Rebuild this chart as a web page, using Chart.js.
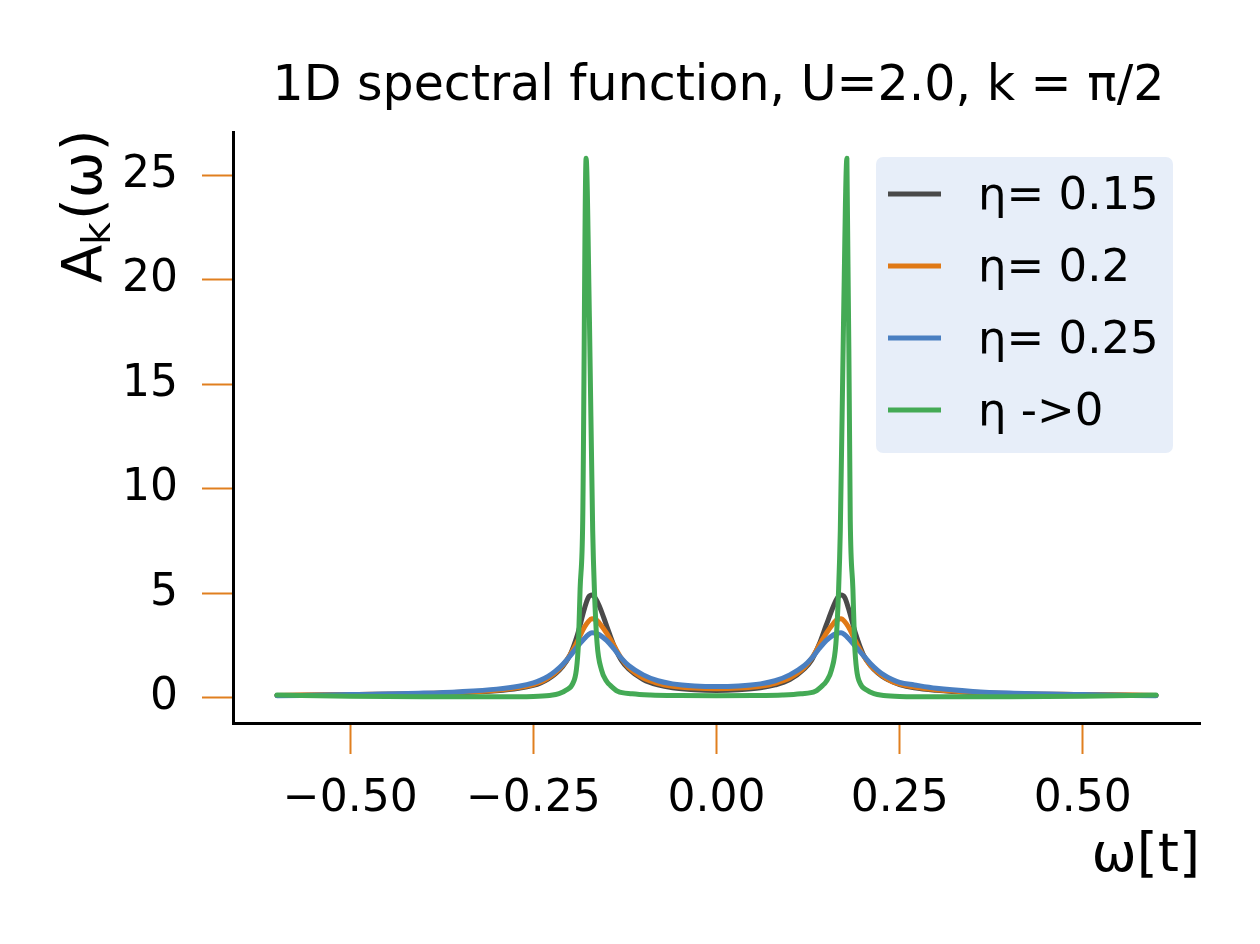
<!DOCTYPE html>
<html>
<head>
<meta charset="utf-8">
<script src="https://cdn.jsdelivr.net/npm/chart.js@4.4.1/dist/chart.umd.min.js"></script>
<style>
  html, body { margin: 0; padding: 0; background: #ffffff; }
  canvas { display: block; }
</style>
</head>
<body>
<canvas id="spectral" width="1260" height="944"></canvas>
<script>
// ===== Data =====

const TITLE = '1D spectral function, U=2.0, k = \u03c0/2';

const seriesLabels = ['\u03b7= 0.15', '\u03b7= 0.2', '\u03b7= 0.25', '\u03b7 ->0'];

// shared frequency grid for the three broadened curves
const omega = [
    -0.60, -0.50, -0.40, -0.35, -0.30, -0.27, -0.25, -0.24, -0.23, -0.22,
    -0.21, -0.20, -0.19, -0.18, -0.175, -0.17, -0.165, -0.16, -0.15, -0.14,
    -0.13, -0.12, -0.10, -0.08, -0.06, -0.03,
    0.00,
    0.03, 0.06, 0.08, 0.10, 0.12, 0.13, 0.14, 0.15, 0.16, 0.165,
    0.17, 0.175, 0.18, 0.19, 0.20, 0.21, 0.22, 0.23, 0.24, 0.25,
    0.27, 0.30, 0.35, 0.40, 0.50, 0.60
];

const eta015 = [
    0.12, 0.15, 0.19, 0.24, 0.34, 0.46, 0.60, 0.72, 0.90, 1.15,
    1.50, 2.05, 3.00, 4.30, 4.80, 4.92, 4.75, 4.40, 3.45, 2.50,
    1.80, 1.38, 0.88, 0.62, 0.48, 0.39,
    0.36,
    0.39, 0.48, 0.62, 0.88, 1.40, 1.82, 2.55, 3.50, 4.42, 4.78,
    4.92, 4.80, 4.30, 3.05, 2.10, 1.55, 1.20, 0.95, 0.78, 0.64,
    0.48, 0.36, 0.25, 0.19, 0.15, 0.12
];

const eta020 = [
    0.12, 0.16, 0.21, 0.27, 0.37, 0.50, 0.64, 0.76, 0.95, 1.20,
    1.55, 2.05, 2.70, 3.40, 3.65, 3.78, 3.75, 3.58, 3.10, 2.50,
    1.90, 1.45, 0.95, 0.70, 0.56, 0.47,
    0.44,
    0.47, 0.56, 0.70, 0.95, 1.45, 1.90, 2.50, 3.10, 3.58, 3.75,
    3.78, 3.65, 3.40, 2.70, 2.05, 1.55, 1.22, 0.97, 0.78, 0.66,
    0.52, 0.39, 0.27, 0.21, 0.16, 0.12
];

const eta025 = [
    0.10, 0.16, 0.23, 0.30, 0.42, 0.56, 0.72, 0.85, 1.03, 1.28,
    1.60, 2.00, 2.45, 2.85, 3.02, 3.12, 3.10, 3.02, 2.75, 2.35,
    1.90, 1.55, 1.10, 0.82, 0.67, 0.57,
    0.54,
    0.57, 0.67, 0.82, 1.10, 1.55, 1.90, 2.35, 2.75, 3.02, 3.10,
    3.12, 3.02, 2.85, 2.45, 2.05, 1.65, 1.32, 1.06, 0.88, 0.74,
    0.62, 0.46, 0.31, 0.23, 0.16, 0.10
];

// the eta -> 0 curve needs a finer grid round the two poles
const omegaFine = [
    -0.60, -0.50, -0.40, -0.30, -0.25, -0.228, -0.215, -0.205, -0.196, -0.1913,
    -0.1885, -0.1862, -0.1826, -0.178, -0.1735, -0.169, -0.1667, -0.163, -0.157, -0.150,
    -0.145, -0.135, -0.115, -0.09, -0.05,
    0.00,
    0.05, 0.09, 0.115, 0.135, 0.145, 0.150, 0.157, 0.163, 0.1667, 0.169,
    0.1735, 0.178, 0.1826, 0.1862, 0.1885, 0.1913, 0.196, 0.205, 0.215, 0.228,
    0.25, 0.30, 0.40, 0.50, 0.60
];

const etaZero = [
    0.14, 0.08, 0.05, 0.05, 0.07, 0.12, 0.20, 0.38, 0.70, 1.34,
    2.60, 5.20, 8.50, 25.80, 18.20, 8.00, 5.20, 2.60, 1.34, 0.80,
    0.60, 0.32, 0.20, 0.14, 0.11,
    0.10,
    0.11, 0.14, 0.20, 0.32, 0.60, 0.80, 1.34, 2.60, 5.20, 8.00,
    18.20, 25.80, 8.50, 5.20, 2.60, 1.34, 0.70, 0.38, 0.20, 0.12,
    0.07, 0.05, 0.05, 0.08, 0.14
];

const xTicks = [-0.50, -0.25, 0.00, 0.25, 0.50];
const xTickLabels = ['\u22120.50', '\u22120.25', '0.00', '0.25', '0.50'];
const yTicks = [0, 5, 10, 15, 20, 25];
const yTickLabels = ['0', '5', '10', '15', '20', '25'];

// ===== Styling =====

const FONT = "'DejaVu Sans', 'Liberation Sans', sans-serif";
const COLORS = ['#4a4a4a', '#e07916', '#4a7fc1', '#44aa55'];
const TICK_COLOR = '#e07f1f';

const toPoints = (xs, ys) => xs.map((x, i) => ({ x: x, y: ys[i] }));

// ===== Plugins =====

// title above the axes
const titlePlugin = {
    id: 'figTitle',
    afterDraw(chart) {
        const { ctx, chartArea } = chart;
        ctx.save();
        ctx.font = `49px ${FONT}`;
        ctx.fillStyle = '#000';
        ctx.textAlign = 'center';
        ctx.textBaseline = 'alphabetic';
        ctx.fillText(TITLE, (chartArea.left + chartArea.right) / 2 + 2, 100);
        ctx.restore();
    }
};

// y label with a real subscript: A_k(omega)
const yLabelPlugin = {
    id: 'yLabel',
    afterDraw(chart) {
        const { ctx, chartArea } = chart;
        ctx.save();
        ctx.translate(101, chartArea.top + 151);
        ctx.rotate(-Math.PI / 2);
        ctx.fillStyle = '#000';
        ctx.textBaseline = 'alphabetic';
        ctx.textAlign = 'left';
        ctx.font = `56px ${FONT}`;
        ctx.fillText('A', 0, 0);
        let w = ctx.measureText('A').width;
        ctx.font = `39px ${FONT}`;
        ctx.fillText('k', w, 9);
        w += ctx.measureText('k').width + 2;
        ctx.font = `56px ${FONT}`;
        ctx.fillText('(\u03c9)', w, 0);
        ctx.restore();
    }
};

// legend box in the upper right of the axes
const legendPlugin = {
    id: 'boxLegend',
    afterDatasetsDraw(chart) {
        const { ctx, chartArea } = chart;
        const boxW = 297, boxH = 296;
        const bx = chartArea.right - 27 - boxW;
        const by = chartArea.top + 25;
        ctx.save();
        ctx.fillStyle = 'rgba(229, 237, 249, 0.92)';
        ctx.beginPath();
        ctx.roundRect(bx, by, boxW, boxH, 7);
        ctx.fill();

        ctx.font = `45px ${FONT}`;
        ctx.textBaseline = 'middle';
        ctx.textAlign = 'left';
        chart.data.datasets.forEach((ds, i) => {
            const rowY = by + 37 + i * 72;
            ctx.strokeStyle = ds.borderColor;
            ctx.lineWidth = 5;
            ctx.beginPath();
            ctx.moveTo(bx + 12, rowY);
            ctx.lineTo(bx + 65, rowY);
            ctx.stroke();
            ctx.fillStyle = '#000';
            ctx.fillText(ds.label, bx + 102, rowY + 3);
        });
        ctx.restore();
    }
};

// ===== Chart =====

const seriesData = [
    toPoints(omega, eta015),
    toPoints(omega, eta020),
    toPoints(omega, eta025),
    toPoints(omegaFine, etaZero)
];

new Chart(document.getElementById('spectral'), {
    type: 'line',
    data: {
        datasets: seriesData.map((pts, i) => ({
            label: seriesLabels[i],
            data: pts,
            borderColor: COLORS[i],
            backgroundColor: COLORS[i],
            borderWidth: 5,
            pointRadius: 0,
            fill: false,
            cubicInterpolationMode: 'monotone',
            borderJoinStyle: 'round',
            borderCapStyle: 'round',
            order: 3 - i
        }))
    },
    options: {
        responsive: false,
        devicePixelRatio: 1,
        animation: false,
        layout: { padding: { left: 0, right: 60, top: 132, bottom: 0 } },
        plugins: {
            legend: { display: false },
            title: { display: false },
            tooltip: { enabled: false }
        },
        scales: {
            x: {
                type: 'linear',
                min: -0.66,
                max: 0.66,
                afterFit(scale) { scale.height = 221; },
                afterBuildTicks(scale) { scale.ticks = xTicks.map(v => ({ value: v })); },
                border: { display: true, color: '#000', width: 3 },
                grid: {
                    drawOnChartArea: false,
                    drawTicks: true,
                    tickLength: 31,
                    tickWidth: 2,
                    tickColor: TICK_COLOR,
                    color: TICK_COLOR
                },
                ticks: {
                    autoSkip: false,
                    maxRotation: 0,
                    padding: 19,
                    color: '#000',
                    font: { family: FONT, size: 44 },
                    callback: (value, index) => xTickLabels[index]
                },
                title: {
                    display: true,
                    text: '\u03c9[t]',
                    align: 'end',
                    color: '#000',
                    font: { family: FONT, size: 54 },
                    padding: { top: 0, bottom: 55 }
                }
            },
            y: {
                type: 'linear',
                min: -1.2,
                max: 27.06,
                afterFit(scale) { scale.width = 233; },
                afterBuildTicks(scale) { scale.ticks = yTicks.map(v => ({ value: v })); },
                border: { display: true, color: '#000', width: 3 },
                grid: {
                    drawOnChartArea: false,
                    drawTicks: true,
                    tickLength: 31,
                    tickWidth: 2,
                    tickColor: TICK_COLOR,
                    color: TICK_COLOR
                },
                ticks: {
                    autoSkip: false,
                    padding: 24,
                    color: '#000',
                    font: { family: FONT, size: 44 },
                    callback: (value, index) => yTickLabels[index]
                }
            }
        }
    },
    plugins: [titlePlugin, yLabelPlugin, legendPlugin]
});
</script>
</body>
</html>
